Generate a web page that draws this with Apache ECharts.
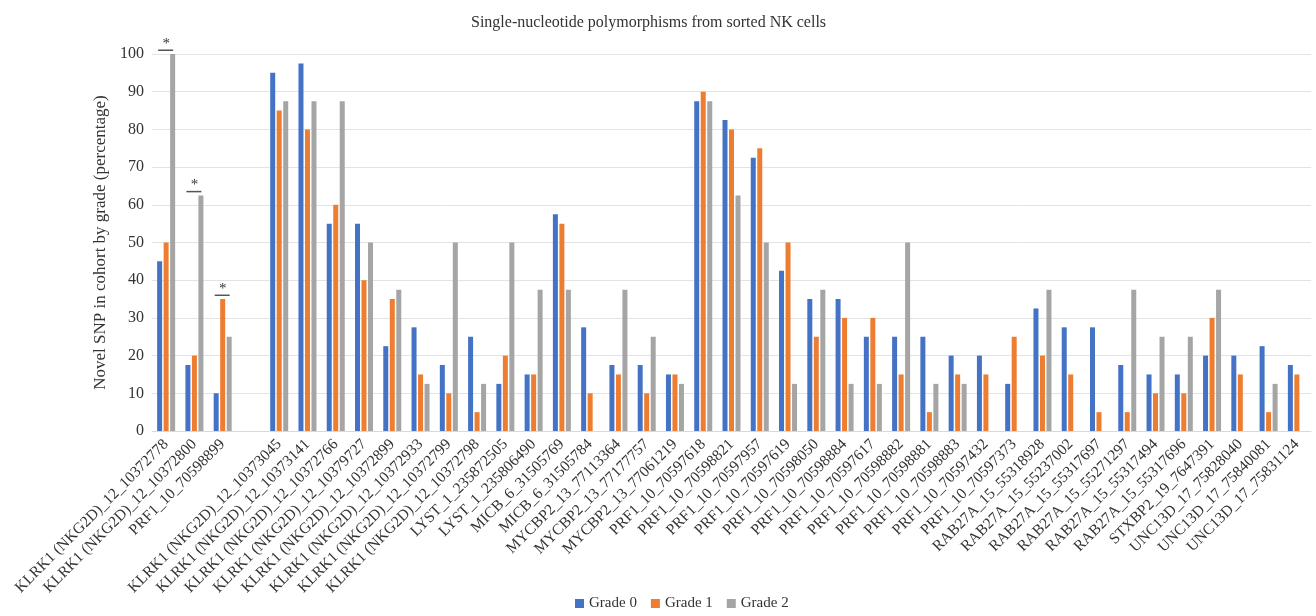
<!DOCTYPE html>
<html>
<head>
<meta charset="utf-8">
<script src="https://cdn.jsdelivr.net/npm/echarts@6/dist/echarts.min.js"></script>
<style>
html,body{margin:0;padding:0;background:#fff;}
#chart{width:1316px;height:616px;}
</style>
</head>
<body>
<div id="chart"></div>
<script>
const categories = [
  'KLRK1 (NKG2D)_12_10372778','KLRK1 (NKG2D)_12_10372800','PRF1_10_70598899','',
  'KLRK1 (NKG2D)_12_10373045','KLRK1 (NKG2D)_12_10373141','KLRK1 (NKG2D)_12_10372766',
  'KLRK1 (NKG2D)_12_10379727','KLRK1 (NKG2D)_12_10372899','KLRK1 (NKG2D)_12_10372933',
  'KLRK1 (NKG2D)_12_10372799','KLRK1 (NKG2D)_12_10372798','LYST_1_235872505','LYST_1_235806490',
  'MICB_6_31505769','MICB_6_31505784','MYCBP2_13_77113364','MYCBP2_13_77177757','MYCBP2_13_77061219',
  'PRF1_10_70597618','PRF1_10_70598821','PRF1_10_70597957','PRF1_10_70597619','PRF1_10_70598050',
  'PRF1_10_70598884','PRF1_10_70597617','PRF1_10_70598882','PRF1_10_70598881','PRF1_10_70598883',
  'PRF1_10_70597432','PRF1_10_70597373','RAB27A_15_55318928','RAB27A_15_55237002','RAB27A_15_55317697',
  'RAB27A_15_55271297','RAB27A_15_55317494','RAB27A_15_55317696','STXBP2_19_7647391',
  'UNC13D_17_75828040','UNC13D_17_75840081','UNC13D_17_75831124'
];
const grade0 = [45,17.5,10,null,95,97.5,55,55,22.5,27.5,17.5,25,12.5,15,57.5,27.5,17.5,17.5,15,
  87.5,82.5,72.5,42.5,35,35,25,25,25,20,20,12.5,32.5,27.5,27.5,17.5,15,15,20,20,22.5,17.5];
const grade1 = [50,20,35,null,85,80,60,40,35,15,10,5,20,15,55,10,15,10,15,
  90,80,75,50,25,30,30,15,5,15,15,25,20,15,5,5,10,10,30,15,5,15];
const grade2 = [100,62.5,25,null,87.5,87.5,87.5,50,37.5,12.5,50,12.5,50,37.5,37.5,0,37.5,25,12.5,
  87.5,62.5,50,12.5,37.5,12.5,12.5,50,12.5,12.5,0,0,37.5,0,0,37.5,25,25,37.5,0,12.5,0];
const sigCategories = ['KLRK1 (NKG2D)_12_10372778','KLRK1 (NKG2D)_12_10372800','PRF1_10_70598899'];
const sigLevels = [101, 63.5, 36];
const seriesNames = ['Grade 0','Grade 1','Grade 2'];
const yTicks = {min:0, max:100, interval:10};

const FONT = '"Liberation Serif", "DejaVu Serif", serif';
const chart = echarts.init(document.getElementById('chart'));
const colors = ['#4472C4','#ED7D31','#A5A5A5'];

const barSeries = [grade0, grade1, grade2].map((d, i) => ({
  name: seriesNames[i],
  type: 'bar',
  data: d,
  barWidth: 5,
  barGap: '30%',
  itemStyle: {color: colors[i]}
}));

const sigSeries = {
  type: 'custom',
  silent: true,
  data: sigCategories.map((c, i) => [c, sigLevels[i]]),
  renderItem: function (params, api) {
    const p = api.coord([api.value(0), api.value(1)]);
    return {
      type: 'group',
      children: [
        {type: 'line', shape: {x1: p[0] - 8, y1: p[1], x2: p[0] + 7, y2: p[1]},
         style: {stroke: '#555', lineWidth: 1.5}},
        {type: 'text', style: {text: '*', x: p[0], y: p[1] + 1, align: 'center', verticalAlign: 'bottom',
          font: '15px ' + FONT, fill: '#333'}}
      ]
    };
  },
  z: 5
};

chart.setOption({
  animation: false,
  textStyle: {fontFamily: FONT},
  title: {
    text: 'Single-nucleotide polymorphisms from sorted NK cells',
    left: 466, top: 10,
    textStyle: {fontFamily: FONT, fontSize: 16, fontWeight: 'normal', color: '#333'}
  },
  legend: {
    data: seriesNames,
    bottom: 0, left: 570,
    icon: 'rect', itemWidth: 9, itemHeight: 9, itemGap: 14,
    textStyle: {fontFamily: FONT, fontSize: 15, color: '#333'}
  },
  grid: {left: 152, right: 5, top: 54, bottom: 185, containLabel: false},
  xAxis: {
    type: 'category',
    data: categories,
    axisTick: {show: false},
    axisLine: {lineStyle: {color: '#d9d9d9', width: 1}},
    axisLabel: {rotate: 45, interval: 0, margin: 11, fontFamily: FONT, fontSize: 15.5, color: '#333'}
  },
  yAxis: {
    type: 'value',
    min: yTicks.min, max: yTicks.max, interval: yTicks.interval,
    name: 'Novel SNP in cohort by grade (percentage)',
    nameLocation: 'middle', nameGap: 40, nameRotate: 90,
    nameTextStyle: {fontFamily: FONT, fontSize: 17, color: '#333'},
    axisLine: {show: false}, axisTick: {show: false},
    axisLabel: {fontFamily: FONT, fontSize: 16, color: '#333', margin: 8},
    splitLine: {lineStyle: {color: '#e3e3e3', width: 1}}
  },
  series: barSeries.concat([sigSeries])
});
</script>
</body>
</html>
